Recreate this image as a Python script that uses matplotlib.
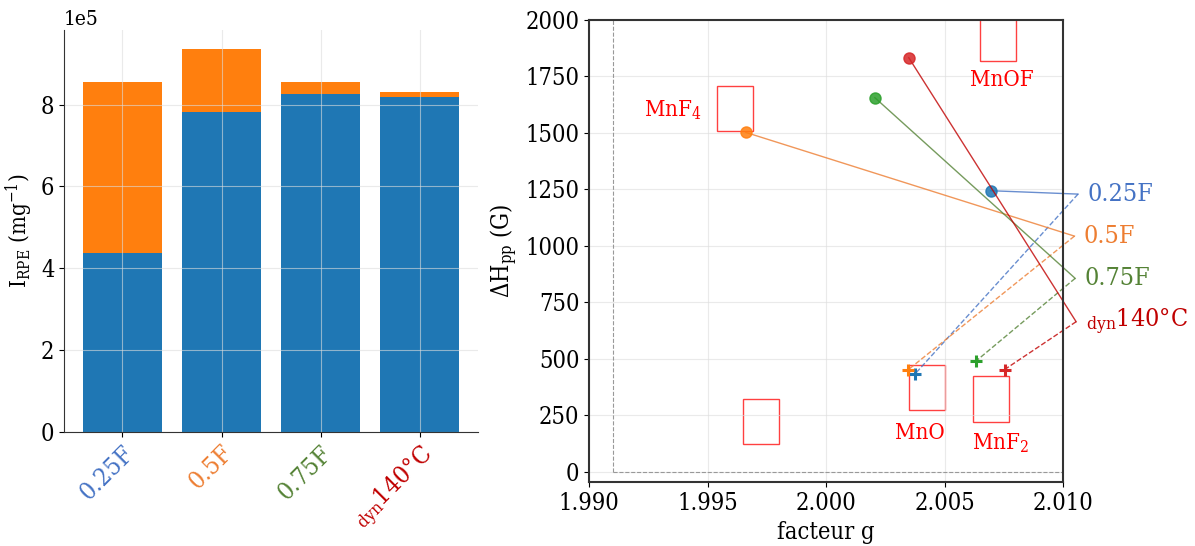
import matplotlib
matplotlib.use("Agg")
from matplotlib import pyplot as plt
from matplotlib.patches import Rectangle
import numpy as np

plt.rcParams['font.family'] = 'DejaVu Serif'
plt.rcParams['font.stretch'] = 'condensed'
plt.rcParams['mathtext.fontset'] = 'dejavuserif'

# samples
samples = ['0.25F', '0.5F', '0.75F', r'$_{\rm dyn}$140°C']
label_colors = ['#4472c4', '#ed7d31', '#548235', '#c00000']
point_colors = ['#1f77b4', '#ff7f0e', '#2ca02c', '#d62728']

# RPE intensity (mg^-1), two components stacked
i_blue = [4.37e5, 7.83e5, 8.26e5, 8.19e5]
i_orange = [4.18e5, 1.54e5, 0.29e5, 0.11e5]

# g factor / linewidth of the two components
g_circle = [2.00695, 1.99662, 2.00206, 2.00349]
h_circle = [1244, 1502, 1656, 1833]
g_cross = [2.00374, 2.00345, 2.00633, 2.00753]
h_cross = [431, 450, 490, 452]

# label anchors outside the plot
g_anchor = [2.01063, 2.01048, 2.01051, 2.01055]
h_anchor = [1229, 1043, 856, 664]

# reference compounds (boxes)
ref_names = ['MnF$_4$', 'MnOF', 'MnO', 'MnF$_2$', '']
ref_g_min = [1.9954, 2.0065, 2.0035, 2.0062, 1.9965]
ref_g_max = [1.9969, 2.0080, 2.0050, 2.0077, 1.9980]
ref_h_min = [1508, 1818, 272, 220, 121]
ref_h_max = [1706, 2100, 472, 422, 320]
ref_label_g = [1.99355, 2.0074, 2.00394, 2.00736, 1.9972]
ref_label_h = [1600, 1735, 173, 125, 0]

g_ref = 1.991

fig = plt.figure(figsize=(11.95, 5.46), dpi=100)
ax1 = fig.add_axes([0.0536, 0.2094, 0.3464, 0.7365])
ax2 = fig.add_axes([0.4929, 0.1167, 0.3967, 0.8467])

# --- left: stacked bars
x = np.arange(len(samples))
ax1.bar(x, i_blue, width=0.8, color='#1f77b4')
ax1.bar(x, i_orange, width=0.8, bottom=i_blue, color='#ff7f0e')
ax1.set_xticks(x)
ax1.set_xticklabels(samples, rotation=45, ha='right', rotation_mode='anchor', fontsize=18)
for t, c in zip(ax1.get_xticklabels(), label_colors):
    t.set_color(c)
ax1.set_yticks([0, 2e5, 4e5, 6e5, 8e5])
ax1.ticklabel_format(axis='y', style='sci', scilimits=(5, 5))
ax1.yaxis.get_offset_text().set_fontsize(15)
ax1.tick_params(axis='y', labelsize=17)
ax1.set_ylabel(r'I$_{\rm RPE}$ (mg$^{-1}$)', fontsize=16)
ax1.grid(True, color='#dddddd', alpha=0.6, lw=0.8)
ax1.spines['top'].set_visible(False)
ax1.spines['right'].set_visible(False)
for s in ['left', 'bottom']:
    ax1.spines[s].set_color('#333333')

# --- right: g factor vs linewidth
ax2.plot([g_ref, g_ref], [0, 2000], ls='--', color='#999999', lw=0.8)
ax2.plot([g_ref, 2.010], [0, 0], ls='--', color='#999999', lw=0.8)

for i in range(len(samples)):
    ax2.plot([g_circle[i], g_anchor[i]], [h_circle[i], h_anchor[i]], color=label_colors[i],
             lw=1, alpha=0.8, clip_on=False)
    ax2.plot([g_anchor[i], g_cross[i]], [h_anchor[i], h_cross[i]], color=label_colors[i],
             lw=1, ls='--', alpha=0.8, clip_on=False)
    ax2.plot(g_circle[i], h_circle[i], 'o', color=point_colors[i], ms=8, alpha=0.85)
    ax2.plot(g_cross[i], h_cross[i], '+', color=point_colors[i], ms=9, mew=2.2)
    ax2.text(g_anchor[i] + 0.0004, h_anchor[i], samples[i], color=label_colors[i],
             fontsize=18, ha='left', va='center', clip_on=False)

for i in range(len(ref_names)):
    ax2.add_patch(Rectangle((ref_g_min[i], ref_h_min[i]), ref_g_max[i] - ref_g_min[i],
                            ref_h_max[i] - ref_h_min[i], fc='none', ec='red', lw=1, alpha=0.75))
    if ref_names[i]:
        ax2.text(ref_label_g[i], ref_label_h[i], ref_names[i], color='red', fontsize=16,
                 ha='center', va='center')

ax2.set_xlim(1.990, 2.010)
ax2.set_ylim(-47, 2000)
ax2.set_xticks([1.990, 1.995, 2.000, 2.005, 2.010])
ax2.set_xticklabels(['1.990', '1.995', '2.000', '2.005', '2.010'])
ax2.set_yticks(np.arange(0, 2001, 250))
ax2.tick_params(labelsize=17)
ax2.set_xlabel('facteur g', fontsize=17)
ax2.set_ylabel(r'$\Delta$H$_{\rm pp}$ (G)', fontsize=17)
ax2.grid(True, color='#dddddd', alpha=0.6, lw=0.8)
for s in ax2.spines.values():
    s.set_color('#333333')
    s.set_linewidth(1.5)

fig.savefig('out.png', dpi=100)
